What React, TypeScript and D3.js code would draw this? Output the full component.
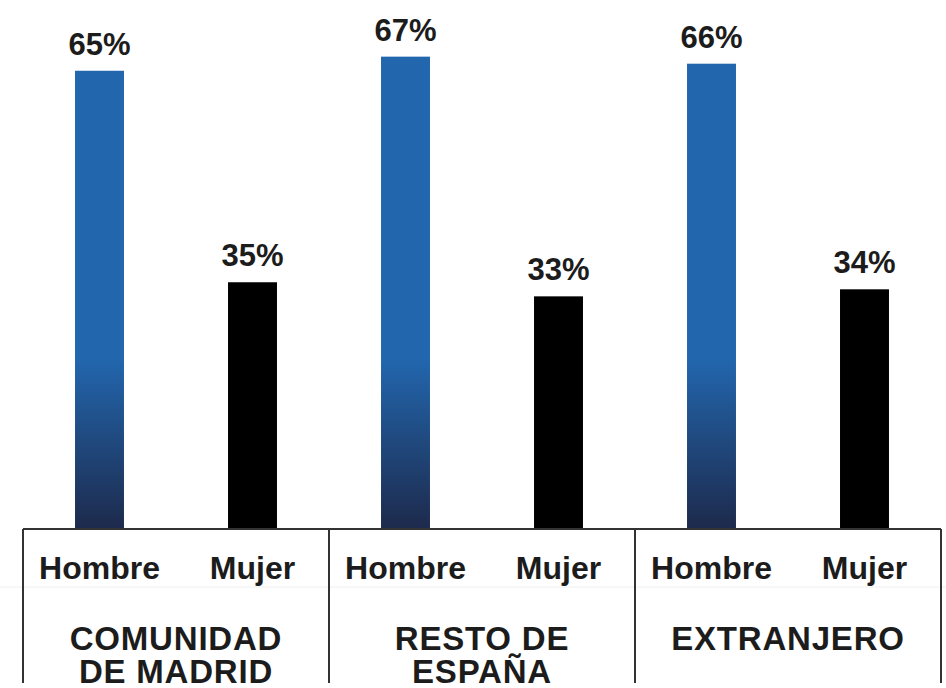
import { useEffect, useRef } from 'react';
import * as d3 from 'd3';

// Chart data
const groups = ['COMUNIDAD DE MADRID', 'RESTO DE ESPAÑA', 'EXTRANJERO'];
const groupLines = [['COMUNIDAD', 'DE MADRID'], ['RESTO DE', 'ESPAÑA'], ['EXTRANJERO']];
const sexes = ['Hombre', 'Mujer'];
const hombreValues = [65, 67, 66];
const mujerValues = [35, 33, 34];

const App = () => {
  const ref = useRef<SVGSVGElement>(null);

  useEffect(() => {
    const width = 946;
    const height = 688;
    const left = 23;
    const right = 941;
    const baseline = 529;
    const font = '"Liberation Sans", Arial, Helvetica, sans-serif';
    const textColor = '#1c1c1c';

    const svg = d3.select(ref.current)
      .attr('width', width)
      .attr('height', height);
    svg.selectAll('*').remove();

    // Scales
    const x0 = d3.scaleBand().domain(groups).range([left, right]).padding(0);
    const x1 = d3.scaleBand()
      .domain(sexes)
      .range([0, x0.bandwidth()])
      .paddingInner(0.68)
      .paddingOuter(0.34);
    const y = d3.scaleLinear().domain([0, 100]).range([baseline, baseline - 705]);

    // Gradient for the Hombre bars (solid blue fading to navy near the base)
    const defs = svg.append('defs');
    const grad = defs.append('linearGradient')
      .attr('id', 'blueGrad')
      .attr('gradientUnits', 'userSpaceOnUse')
      .attr('x1', 0).attr('x2', 0)
      .attr('y1', y(24)).attr('y2', y(0));
    grad.append('stop').attr('offset', '0%').attr('stop-color', '#2266ad');
    grad.append('stop').attr('offset', '100%').attr('stop-color', '#1d2a4c');

    const rows = groups.flatMap((g, i) => [
      { group: g, sex: 'Hombre', value: hombreValues[i] },
      { group: g, sex: 'Mujer', value: mujerValues[i] },
    ]);

    // Faint separator between the two label levels
    svg.append('line')
      .attr('x1', 0).attr('x2', width)
      .attr('y1', 587).attr('y2', 587)
      .attr('stroke', '#f0f0f0')
      .attr('stroke-width', 1);

    // Bars
    svg.append('g')
      .selectAll('rect')
      .data(rows)
      .enter()
      .append('rect')
      .attr('x', (d) => (x0(d.group) || 0) + (x1(d.sex) || 0))
      .attr('y', (d) => y(d.value))
      .attr('width', x1.bandwidth())
      .attr('height', (d) => y(0) - y(d.value))
      .attr('fill', (d) => (d.sex === 'Hombre' ? 'url(#blueGrad)' : '#000'));

    // Value labels
    svg.append('g')
      .selectAll('text')
      .data(rows)
      .enter()
      .append('text')
      .attr('x', (d) => (x0(d.group) || 0) + (x1(d.sex) || 0) + x1.bandwidth() / 2)
      .attr('y', (d) => y(d.value) - 16)
      .attr('text-anchor', 'middle')
      .style('font-family', font)
      .style('font-weight', 'bold')
      .style('font-size', '31px')
      .style('fill', textColor)
      .text((d) => d.value + '%');

    // Axis line and group dividers
    const axis = svg.append('g').attr('stroke', '#333').attr('stroke-width', 2);
    axis.append('line')
      .attr('x1', left).attr('x2', right)
      .attr('y1', baseline).attr('y2', baseline);
    const edges = [...groups.map((g) => x0(g) || 0), right];
    axis.selectAll('.divider')
      .data(edges)
      .enter()
      .append('line')
      .attr('class', 'divider')
      .attr('x1', (d) => d).attr('x2', (d) => d)
      .attr('y1', baseline).attr('y2', 683);

    // Sex labels
    svg.append('g')
      .selectAll('text')
      .data(rows)
      .enter()
      .append('text')
      .attr('x', (d) => (x0(d.group) || 0) + (x1(d.sex) || 0) + x1.bandwidth() / 2)
      .attr('y', 579)
      .attr('text-anchor', 'middle')
      .style('font-family', font)
      .style('font-weight', 'bold')
      .style('font-size', '32px')
      .style('fill', textColor)
      .text((d) => d.sex);

    // Group labels
    groups.forEach((g, i) => {
      const t = svg.append('text')
        .attr('x', (x0(g) || 0) + x0.bandwidth() / 2)
        .attr('y', 650)
        .attr('text-anchor', 'middle')
        .style('font-family', font)
        .style('font-weight', 'bold')
        .style('font-size', '33px')
        .style('letter-spacing', '0.8px')
        .style('fill', textColor);
      groupLines[i].forEach((line, j) => {
        t.append('tspan')
          .attr('x', (x0(g) || 0) + x0.bandwidth() / 2)
          .attr('dy', j === 0 ? 0 : 33)
          .text(line);
      });
    });
  }, []);

  return <svg ref={ref} style={{ position: 'absolute', left: 0, top: 0 }}></svg>;
};

export default App;
